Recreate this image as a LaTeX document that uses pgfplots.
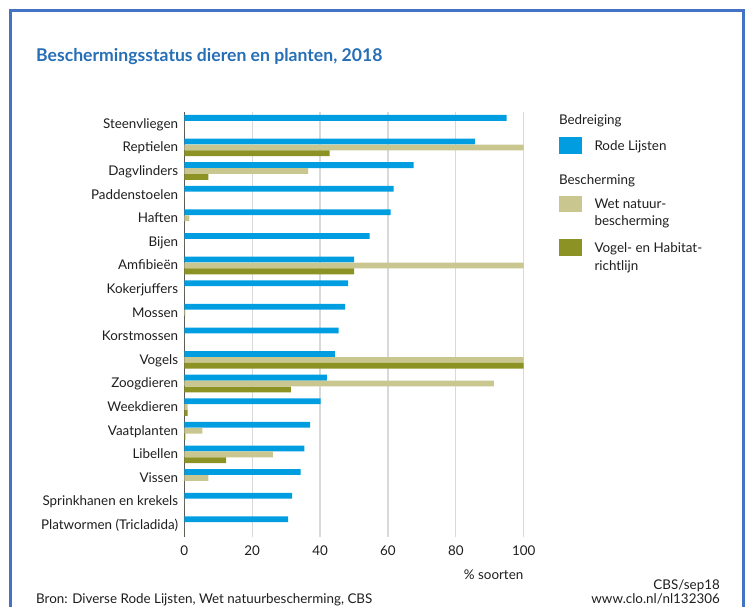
\documentclass[border=0pt]{standalone}
\usepackage{fontspec}
\setmainfont{Lato}
\usepackage{pgfplots}
\pgfplotsset{compat=1.18}
\usepackage{pgfplotstable}

\definecolor{rode}{RGB}{0,158,224}
\definecolor{wet}{RGB}{201,199,143}
\definecolor{vhr}{RGB}{141,146,36}
\definecolor{titel}{RGB}{38,110,182}
\definecolor{kader}{RGB}{68,114,196}
\definecolor{tekst}{RGB}{30,30,30}
\definecolor{rooster}{RGB}{217,217,217}

\newcommand{\lbl}{\fontsize{13.4pt}{15pt}\selectfont}

\pgfplotstableread{
y rode wet vhr
17 95.0 0 0
16 85.6 100 42.8
15 67.6 36.5 7.1
14 61.7 0 0
13 60.8 1.5 0
12 54.6 0 0
11 50.0 100 50.0
10 48.3 0 0
9 47.4 0.3 0
8 45.5 0 0
7 44.4 100 100
6 42.0 91.2 31.4
5 40.2 1.0 1.0
4 37.1 5.3 0.3
3 35.4 26.1 12.3
2 34.3 7.1 0
1 31.8 0 0
0 30.6 0 0
}\data

\begin{document}
\begin{tikzpicture}
\path[use as bounding box] (0pt,0pt) rectangle (749pt,607pt);
\draw[kader, line width=2.5pt] (10.5pt,-10pt) -- (10.5pt,596.5pt) -- (743.5pt,596.5pt) -- (743.5pt,-10pt);
\node[anchor=base west, inner sep=0pt, text=titel, font=\fontsize{17.6pt}{20pt}\selectfont\bfseries] at (36pt,545pt) {Beschermingsstatus dieren en planten, 2018};

\begin{axis}[
  at={(184.3pt,70pt)}, anchor=south west,
  scale only axis, width=339.4pt, height=425pt,
  xmin=0, xmax=100, ymin=-0.5, ymax=17.5,
  axis lines*=left,
  x axis line style={draw=none},
  y axis line style={draw=gray!70!black, line width=0.8pt},
  xmajorgrids, major grid style={draw=rooster, line width=1.3pt},
  xtick={0,20,...,100},
  ytick={0,...,17},
  yticklabels={Platwormen (Tricladida), Sprinkhanen en krekels, Vissen, Libellen, Vaatplanten, Weekdieren, Zoogdieren, Vogels, Korstmossen, Mossen, Kokerjuffers, Amfibieën, Bijen, Haften, Paddenstoelen, Dagvlinders, Reptielen, Steenvliegen},
  major tick length=0pt,
  tick label style={font=\lbl, text=tekst},
  yticklabel style={inner sep=0pt, anchor=base east, xshift=-6pt, yshift=-4.4pt},
  xticklabel style={inner sep=0pt, anchor=north, yshift=-8.5pt},
  /pgf/number format/assume math mode=true,
  xbar, bar width=5.8pt,
  legend image code/.code={\fill[#1] (0pt,-3.5pt) rectangle (23pt,13pt);},
  legend style={at={(1.104,0.998)}, anchor=north west, draw=none, fill=none,
    inner sep=0pt, outer sep=0pt, row sep=0pt, column sep=12.5pt,
    font=\lbl, text=tekst, cells={anchor=base west}, nodes={inner sep=0pt}},
]
\addlegendimage{empty legend}
\addlegendentry{\hspace*{-35.5pt}\rule{0pt}{12pt}Bedreiging}
\addplot[fill=rode, draw=none, bar shift=5.9pt] table[x=rode, y=y] {\data};
\addlegendentry{\rule{0pt}{24pt}Rode Lijsten}
\addlegendimage{empty legend}
\addlegendentry{\hspace*{-35.5pt}\rule{0pt}{30.5pt}Bescherming}
\addplot[fill=wet, draw=none, bar shift=0pt] table[x=wet, y=y] {\data};
\addlegendentry{\rule{0pt}{23pt}Wet natuur-}
\addlegendimage{empty legend}
\addlegendentry{\rule{0pt}{13.5pt}bescherming}
\addplot[fill=vhr, draw=none, bar shift=-5.9pt] table[x=vhr, y=y] {\data};
\addlegendentry{\rule{0pt}{25pt}Vogel- en Habitat-}
\addlegendimage{empty legend}
\addlegendentry{\rule{0pt}{14.5pt}richtlijn}
\end{axis}

\node[anchor=base east, inner sep=0pt, font=\lbl, text=tekst] at (523.5pt,27pt) {\% soorten};
\node[anchor=base east, inner sep=0pt, font=\lbl, text=tekst] at (720pt,17pt) {CBS/sep18};
\node[anchor=base east, inner sep=0pt, font=\lbl, text=tekst] at (720pt,3.5pt) {www.clo.nl/nl132306};
\node[anchor=base west, inner sep=0pt, font=\lbl, text=tekst] at (36pt,3.5pt) {Bron: Diverse Rode Lijsten, Wet natuurbescherming, CBS};
\end{tikzpicture}
\end{document}
